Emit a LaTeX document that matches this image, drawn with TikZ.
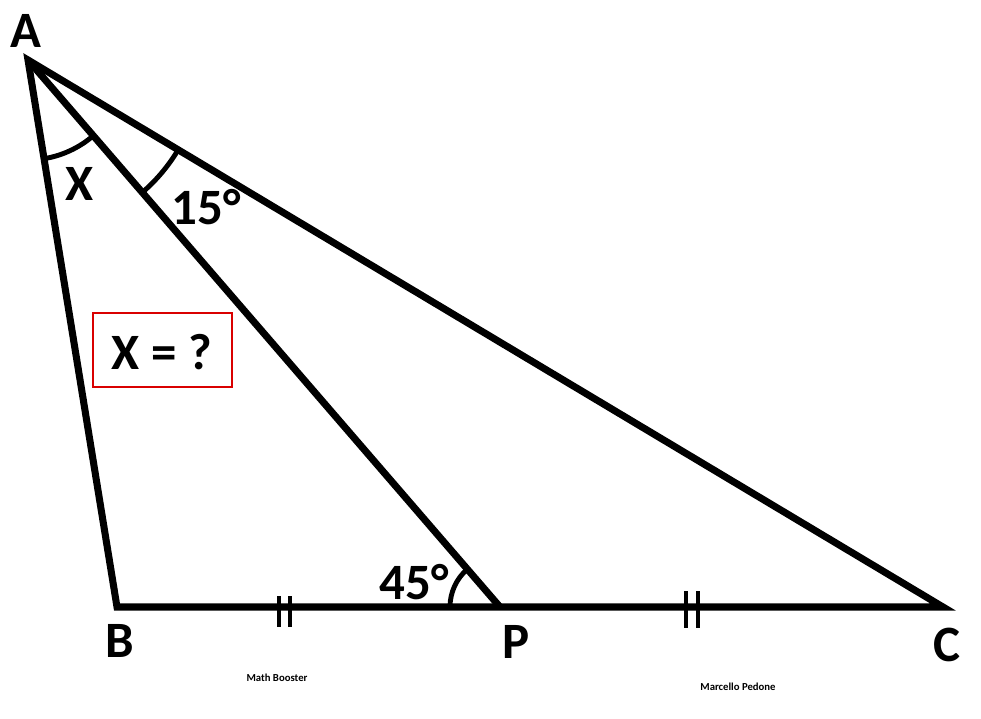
\documentclass[tikz,border=0pt]{standalone}
\usepackage{fontspec}
\setmainfont{Carlito}
\usetikzlibrary{angles}
\tikzset{
  side/.style={line width=4pt, line join=miter},
  tick/.style={line width=2.8pt},
  lbl/.style={font=\fontsize{29}{33}\selectfont\bfseries, inner sep=0pt},
  sig/.style={font=\fontsize{6.1}{7}\selectfont\bfseries, inner sep=0pt}
}
\begin{document}
\begin{tikzpicture}[x=0.02cm, y=-0.02cm]
        \useasboundingbox (0,0) rectangle (981,719);

        % Vertices
        \coordinate (A) at (28,60);
        \coordinate (B) at (117,607);
        \coordinate (P) at (500,607);
        \coordinate (C) at (943,607);

        % Triangle and cevian
        \draw[side] (A) -- (B) -- (C) -- cycle;
        \draw[side] (A) -- (P);

        % Angle arcs
        \pic[draw, line width=2.8pt, angle radius=2cm] {angle = B--A--P};
        \pic[draw, line width=2.8pt, angle radius=3.5cm] {angle = P--A--C};
        \pic[draw, line width=2.8pt, angle radius=1cm] {angle = A--P--B};

        % Equal-length marks
        \draw[tick] (279,596) -- (279,627) (290,596) -- (290,627);
        \draw[tick] (686,591) -- (686,628) (698,591) -- (698,628);

        % Labels
        \node[lbl] (labA) at (26,31) {A};
        \node[lbl] (labB) at (120,641) {B};
        \node[lbl] (labP) at (516,642) {P};
        \node[lbl] (labC) at (947,645) {C};
        \node[lbl] (labX) at (80,184) {X};
        \node[lbl] (lab15) at (206,207) {15°};
        \node[lbl] (lab45) at (414,582) {45°};

        % Question box
        \draw[red!85!black, line width=1.7pt] (93,313) rectangle (232,387);
        \node[lbl] (quest) at (162,352) {X = ?};

        % Signatures
        \node[sig] (sig1) at (277,678) {Math Booster};
        \node[sig] (sig2) at (738,687) {Marcello Pedone};
\end{tikzpicture}
\end{document}
